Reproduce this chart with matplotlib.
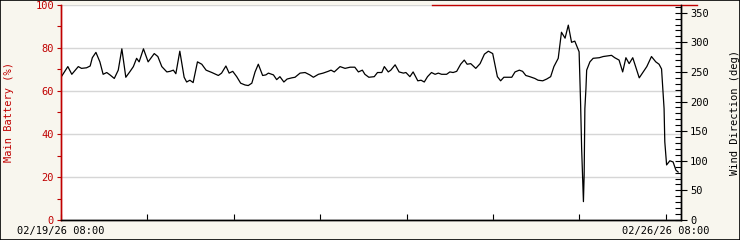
import matplotlib
matplotlib.use('Agg')
import matplotlib.pyplot as plt
from matplotlib.ticker import MultipleLocator, FixedLocator

# hours since 02/19/26 08:00 and wind direction (deg)
wind_hours = [0, 1.9, 3.0, 4.8, 5.7, 7.1, 8.1, 8.7, 9.7, 10.8, 11.7, 12.7, 13.6, 14.8, 15.9, 16.9,
              18.0, 19.2, 20.1, 21.0, 21.7, 22.9, 24.2, 25.9, 26.9, 28.0, 29.4, 30.3, 31.2, 31.9,
              33.0, 34.2, 34.9, 35.8, 36.7, 37.9, 39.1, 40.3, 41.9, 43.7, 44.6, 45.8, 46.7, 47.7,
              48.8, 49.9, 51.1, 52.0, 53.0, 53.9, 54.8, 56.0, 56.9, 57.6, 59.0, 59.9, 60.8, 61.9,
              62.8, 64.1, 65.0, 66.4, 67.8, 69.1, 70.1, 71.5, 72.8, 74.2, 75.0, 75.9, 77.5, 78.9,
              80.3, 81.6, 82.6, 83.7, 84.4, 85.5, 87.0, 87.9, 89.1, 89.8, 90.9, 91.6, 92.8, 93.9,
              95.1, 95.8, 96.9, 97.8, 99.1, 100.0, 100.9, 101.8, 102.9, 103.9, 104.8, 105.7,
              107.1, 108.0, 108.9, 109.9, 111.0, 112.0, 112.8, 113.8, 115.2, 116.4, 117.6, 118.7,
              119.9, 120.7, 121.2, 122.1, 123.0, 125.2, 126.1, 127.3, 128.2, 129.1, 130.2, 131.6,
              132.5, 133.8, 134.9, 136.0, 136.9, 138.1, 138.6, 139.0, 140.0, 140.9, 141.8, 142.7,
              143.9, 144.3, 144.6, 145.1, 145.3, 145.5, 145.8, 146.0, 146.9, 147.8, 149.5, 150.6,
              151.7, 152.9, 153.8, 155.0, 156.0, 156.9, 157.8, 158.8, 160.6, 162.7, 164.0, 165.2,
              166.1, 166.8, 167.5, 167.7, 168.2, 169.1, 170.0, 170.8, 171.4]
wind_deg = [241, 259, 246, 259, 256, 257, 260, 274, 283, 267, 246, 249, 245, 239, 253, 289,
            241, 251, 259, 273, 267, 289, 267, 281, 276, 259, 250, 251, 253, 247,
            285, 241, 233, 236, 232, 267, 263, 253, 249, 244, 248, 260, 248, 251,
            242, 231, 228, 227, 231, 250, 263, 244, 245, 248, 245, 237, 242, 233,
            238, 240, 241, 248, 249, 245, 241, 246, 248, 251, 253, 250, 259, 256,
            258, 258, 250, 253, 246, 241, 242, 249, 249, 259, 250, 253, 262, 250,
            248, 249, 242, 250, 235, 236, 233, 242, 249, 246, 248, 246,
            246, 250, 249, 251, 263, 270, 263, 264, 256, 264, 280, 285,
            281, 257, 242, 235, 241, 241, 250, 253, 251, 244, 242, 239,
            236, 235, 238, 242, 259, 273, 298, 317, 307, 329, 300, 302,
            284, 200, 121, 31, 76, 188, 222, 253, 267, 273, 274, 276,
            277, 278, 274, 270, 250, 274, 264, 274, 240, 259, 276, 267,
            263, 255, 188, 132, 93, 100, 98, 84, 81]

# main battery (%)
batt_hours = [103.0, 176.6]
batt_pct = [100, 100]

x_ticks = [0, 24, 48, 72, 96, 120, 144, 168]
x_labels = ['02/19/26 08:00', '', '', '', '', '', '', '02/26/26 08:00']

red = '#c00000'
bg = '#f8f6ee'
font = {'family': 'DejaVu Sans Mono', 'size': 7.5}

fig = plt.figure(figsize=(7.4, 2.4), dpi=100, facecolor=bg)
fig.patches.append(plt.Rectangle((0, 0), 1, 1, transform=fig.transFigure,
                                 fill=False, edgecolor='black', linewidth=1.2))
ax = fig.add_axes([61 / 740, 20 / 240, 620 / 740, 215 / 240])
ax.set_facecolor('white')
ax.set_xlim(0, 172.2)
ax.set_ylim(0, 100)
ax.yaxis.set_major_locator(MultipleLocator(20))
ax.yaxis.set_minor_locator(MultipleLocator(10))
ax.grid(axis='y', which='major', color='#d6d6d6', linewidth=1.0)
ax.set_axisbelow(True)

ax.plot(batt_hours, batt_pct, color=red, linewidth=1.0, clip_on=False, zorder=3)

ax.xaxis.set_major_locator(FixedLocator(x_ticks))
ax.set_xticklabels(x_labels, **font)
ax.tick_params(axis='x', direction='in', length=4, width=0.8, color='black', pad=4)
ax.tick_params(axis='y', which='both', direction='out', length=3, width=0.8,
               colors=red, labelsize=7.5, pad=2)
for lab in ax.get_yticklabels():
    lab.set_family('DejaVu Sans Mono')
ax.set_ylabel('Main Battery (%)', color=red, labelpad=15, **font)

ax2 = ax.twinx()
ax2.set_ylim(0, 363)
ax2.plot(wind_hours, wind_deg, color='black', linewidth=0.9)
ax2.yaxis.set_major_locator(MultipleLocator(50))
ax2.yaxis.set_minor_locator(MultipleLocator(10))
ax2.tick_params(axis='y', which='major', direction='inout', length=9, width=0.8,
                colors='black', labelsize=7.5, pad=2)
ax2.tick_params(axis='y', which='minor', direction='in', length=4, width=0.8, color='black')
for lab in ax2.get_yticklabels():
    lab.set_family('DejaVu Sans Mono')
ax2.set_ylabel('Wind Direction (deg)', labelpad=15, **font)

for a in (ax, ax2):
    a.spines['top'].set_visible(False)
    a.spines['bottom'].set_color('black')
    a.spines['right'].set_color('black')
    a.spines['left'].set_color(red)
    for s in a.spines.values():
        s.set_linewidth(1.0)

plt.savefig('out.png', dpi=100, facecolor=bg)
